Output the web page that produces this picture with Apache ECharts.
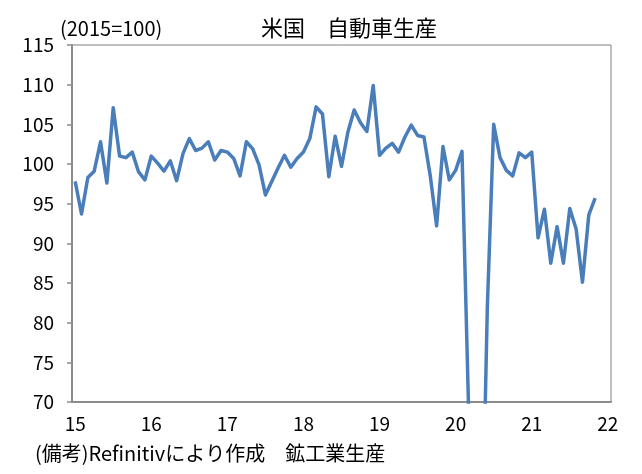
<!DOCTYPE html>
<html>
<head>
<meta charset="utf-8">
<script src="https://cdn.jsdelivr.net/npm/echarts@6/dist/echarts.min.js"></script>
<style>
html,body{margin:0;padding:0;background:#fff;}
#c{width:642px;height:474px;}
</style>
</head>
<body>
<div id="c"></div>
<script>
// Year tick labels (January of each year)
var yearLabels = ['15','16','17','18','19','20','21','22'];
// Monthly index values (2015=100), Jan 2015 - Nov 2021
var v2015 = [97.8, 93.7, 98.3, 99.1, 102.8, 97.6, 107.1, 101.0, 100.8, 101.5, 99.0, 98.0];
var v2016 = [101.0, 100.1, 99.1, 100.4, 97.9, 101.3, 103.2, 101.7, 102.0, 102.8, 100.5, 101.7];
var v2017 = [101.5, 100.7, 98.5, 102.8, 101.9, 99.9, 96.1, 97.8, 99.5, 101.1, 99.6, 100.7];
var v2018 = [101.5, 103.2, 107.2, 106.3, 98.4, 103.5, 99.7, 104.0, 106.8, 105.2, 104.1, 109.9];
var v2019 = [101.1, 102.0, 102.6, 101.5, 103.4, 104.9, 103.6, 103.4, 98.5, 92.2, 102.2, 98.0];
var v2020 = [99.2, 101.6, 70.5, 4.0, 45.0, 82.0, 105.0, 100.8, 99.2, 98.5, 101.4, 100.8];
var v2021 = [101.5, 90.7, 94.3, 87.5, 92.1, 87.5, 94.4, 91.8, 85.1, 93.6, 95.7];
var yTicks = [70, 75, 80, 85, 90, 95, 100, 105, 110, 115];

var values = [].concat(v2015, v2016, v2017, v2018, v2019, v2020, v2021);
// categories: one per month from Jan 2015 to Jan 2022
var categories = [];
for (var y = 0; y < yearLabels.length; y++) {
  var n = (y === yearLabels.length - 1) ? 1 : 12;
  for (var m = 0; m < n; m++) categories.push(yearLabels[y] + '-' + (m + 1));
}

var FONT = '"Noto Sans CJK JP", "Noto Sans", sans-serif';
var chart = echarts.init(document.getElementById('c'), null, {renderer: 'canvas'});
chart.setOption({
  animation: false,
  backgroundColor: '#ffffff',
  grid: {left: 72, right: 31, top: 45, bottom: 72, show: true, borderColor: '#808080', borderWidth: 1, backgroundColor: 'transparent'},
  title: [
    {text: '米国　自動車生産', left: 256, top: 12, textStyle: {fontFamily: FONT, fontSize: 22, fontWeight: 'normal', color: '#000'}},
    {text: '(2015=100)', left: 55, top: 13, textStyle: {fontFamily: FONT, fontSize: 20, fontWeight: 'normal', color: '#000'}},
    {text: '(備考)Refinitivにより作成　鉱工業生産', left: 30, top: 438, textStyle: {fontFamily: FONT, fontSize: 20, fontWeight: 'normal', color: '#000'}}
  ],
  xAxis: {
    type: 'category',
    data: categories,
    boundaryGap: true,
    axisLine: {show: true, lineStyle: {color: '#8c8c8c', width: 2}},
    axisTick: {show: false},
    splitLine: {show: false},
    axisLabel: {
      interval: function (idx) { return idx % 12 === 0; },
      formatter: function (val) { return val.split('-')[0]; },
      fontFamily: FONT, fontSize: 19, color: '#000', margin: 12
    }
  },
  yAxis: {
    type: 'value',
    min: yTicks[0],
    max: yTicks[yTicks.length - 1],
    interval: 5,
    axisLine: {show: true, lineStyle: {color: '#8c8c8c', width: 2}},
    axisTick: {show: true, inside: false, length: 5, lineStyle: {color: '#8c8c8c', width: 1.5}},
    splitLine: {show: false},
    axisLabel: {fontFamily: FONT, fontSize: 19, color: '#000', margin: 18}
  },
  series: [{
    type: 'line',
    data: values,
    symbol: 'none',
    clip: true,
    lineStyle: {color: '#4a7ebb', width: 3.5, join: 'round'},
    itemStyle: {color: '#4a7ebb'}
  }]
});
</script>
</body>
</html>
